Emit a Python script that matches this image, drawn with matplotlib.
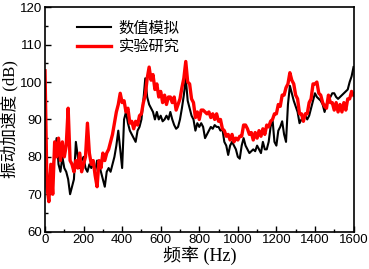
import matplotlib
matplotlib.use('Agg')
import matplotlib.pyplot as plt
from matplotlib.ticker import MultipleLocator

freq = list(range(0, 1610, 10))

sim = [78, 76, 73, 75, 77, 80, 85, 78, 76, 80,
       77, 76, 74, 70, 72, 74, 84, 80, 77, 79,
       80, 77, 76, 78, 77, 78, 76, 79, 78, 76,
       74, 72, 76, 77, 76, 78, 80, 83, 87, 82,
       77, 90, 92, 89, 87, 86, 85, 84, 87, 88,
       90, 95, 101, 96, 94, 93, 92, 90, 92, 90,
       91, 89.5, 90, 91, 90, 92, 90, 88.5, 87.5, 88,
       90, 93, 96.5, 101, 95, 93, 91, 90, 87, 89,
       88, 89, 88, 85, 86, 87, 88, 87.5, 88.5, 88,
       88, 87, 87.5, 84, 83, 80.5, 83, 84, 83, 82,
       80, 79.5, 83, 85, 83, 82, 81, 81.5, 82, 81.5,
       83, 82, 81, 84, 82, 82, 84, 88, 90, 84,
       83, 87, 88, 89.5, 86, 84, 94, 99, 97, 95,
       93.5, 92, 89, 90, 90.5, 91, 90, 91, 93, 95,
       97, 96, 95.5, 95, 94, 92, 94, 95.5, 96, 97,
       97, 96, 95.5, 96, 96.5, 97, 97.5, 98, 100, 101.5,
       104]

test = [103, 72, 68, 78, 70, 84, 80, 85, 79, 84,
        80, 83, 93, 79, 78, 76, 79, 77, 81, 76,
        78, 80, 89, 81, 78, 79, 75, 72, 79, 77,
        81, 79, 81, 82, 84, 86, 89, 92, 94, 97,
        94.5, 95, 92, 93, 89, 89.5, 87.5, 89.5, 88.5, 91,
        91.5, 94.5, 96.5, 101, 104, 100.5, 102, 98, 99.5, 96,
        97.5, 94.5, 96.5, 94, 96, 96, 94.5, 96, 92.5, 94,
        95.5, 98.5, 101, 105.5, 100, 99.5, 95.5, 94.5, 90.5, 92,
        90, 92.5, 92.5, 92, 91.5, 92, 90.5, 91.5, 90, 91.5,
        89.5, 90, 87.5, 87, 85.5, 86, 84.5, 86, 84, 85,
        84.5, 85.5, 85.5, 88.5, 88.5, 87.5, 86, 86.5, 84.5, 86.5,
        85, 87, 85.5, 87.5, 86, 88.5, 88, 89.5, 90, 91.5,
        91.5, 94, 93.5, 96.5, 96.5, 98.5, 99.5, 102.5, 100.5, 99.5,
        96.5, 95.5, 91.5, 91.5, 89.5, 91.5, 91.5, 94.5, 95.5, 99.5,
        99.5, 100, 97, 96.5, 94.5, 93.5, 93, 96.5, 94.5, 94.5,
        92.5, 94.5, 92, 94, 92, 94.5, 92.5, 95.5, 95.5, 97.5,
        96.5]

cjk = ['Liberation Serif', 'Noto Sans CJK SC']

fig = plt.figure(figsize=(3.69, 2.69), dpi=100)
ax = fig.add_axes([0.122, 0.139, 0.836, 0.834])

ax.plot(freq, sim, color='black', lw=1.5, label='数值模拟')
ax.plot(freq, test, color='#ff0000', lw=2.4, label='实验研究')

ax.set_xlim(0, 1600)
ax.set_ylim(60, 120)
ax.xaxis.set_major_locator(MultipleLocator(200))
ax.xaxis.set_minor_locator(MultipleLocator(100))
ax.yaxis.set_major_locator(MultipleLocator(10))
ax.yaxis.set_minor_locator(MultipleLocator(5))
ax.tick_params(which='both', direction='in', top=False, right=False,
               labelsize=9.5, width=1.0, pad=2)
ax.tick_params(which='major', length=4)
ax.tick_params(which='minor', length=2.5)
for lab in ax.get_xticklabels() + ax.get_yticklabels():
    lab.set_family('Liberation Sans')
for s in ax.spines.values():
    s.set_linewidth(1.2)

ax.set_xlabel('频率 (Hz)', family=cjk, fontsize=13, labelpad=0)
ax.set_ylabel('振动加速度 (dB)', family=cjk, fontsize=12, labelpad=1)

leg = ax.legend(loc='upper left', bbox_to_anchor=(0.07, 0.985), frameon=False,
                prop={'family': cjk, 'size': 11}, handlelength=2.2,
                handletextpad=0.5, labelspacing=0.3, borderaxespad=0.3)

fig.savefig('out.png', dpi=100)
